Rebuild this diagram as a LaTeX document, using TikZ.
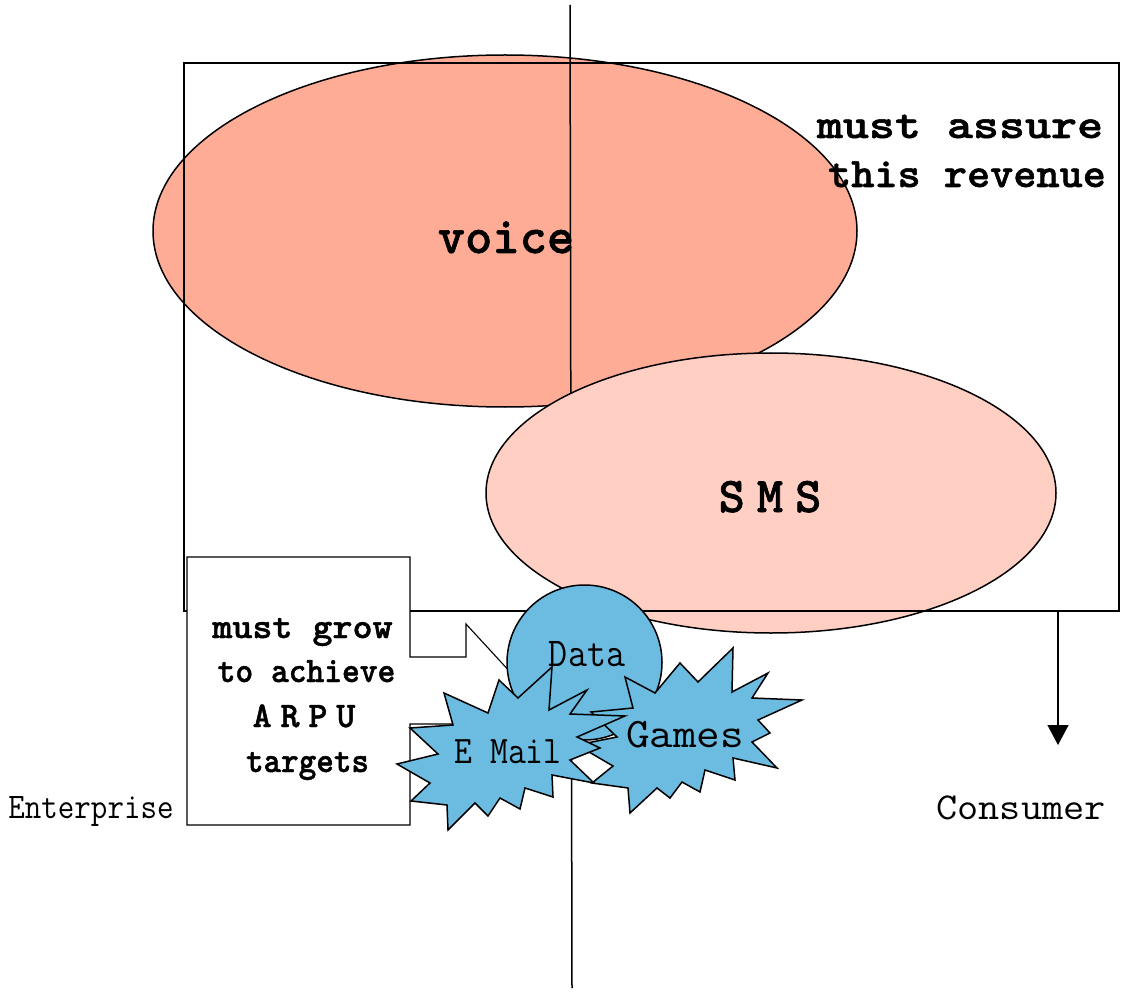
\documentclass[tikz,border=0pt]{standalone}
\usepackage{graphicx}
\usepackage{fontspec}
\usetikzlibrary{arrows.meta}
% heavy slab typewriter for the bold labels
\newfontfamily\monob{lmmonolt10-bold.otf}[FakeBold=1.2]
\definecolor{voicefill}{RGB}{255,172,150}
\definecolor{smsfill}{RGB}{255,207,196}
\definecolor{datafill}{RGB}{108,187,225}
% horizontal stretch of a label, font size helper
\newcommand{\hs}[2]{\scalebox{#1}[1]{#2}}
\newcommand{\fs}[1]{\fontsize{#1}{#1}\selectfont}
\begin{document}
\begin{tikzpicture}[x=1pt,y=-1pt,
  outline/.style={draw=black,line width=1.5pt},
  frameline/.style={draw=black,line width=1.1pt},
  bluefill/.style={outline,fill=datafill,line join=miter},
  lbl/.style={anchor=base,inner sep=0pt,font=\ttfamily},
  blbl/.style={anchor=base,inner sep=0pt,font=\monob}]
\useasboundingbox (0,0) rectangle (1122,992);

% axis end points and arrow ends
\coordinate (axistop) at (570,5);
\coordinate (axisbot) at (572,988);
\coordinate (arrowstart) at (1058,611);
\coordinate (arrowend) at (1058,745);

% voice revenue
\draw[outline,fill=voicefill] (505,231) ellipse [x radius=352pt, y radius=176pt];

% enterprise / consumer divider
\draw[line width=1.5pt] (axistop) -- (axisbot);

% SMS revenue
\draw[outline,fill=smsfill] (771,493) ellipse [x radius=285pt, y radius=140pt];

% assured revenue frame
\draw[frameline] (184,63) rectangle (1119,611);

% drift towards consumer
\draw[line width=1.5pt,-{Triangle[width=21pt,length=20pt]}] (arrowstart) -- (arrowend);

% growth callout with pointer
\draw[frameline,fill=white] (187,557) -- (410,557) -- (410,657) -- (466,657) -- (466,624)
  -- (558,724) -- (410,724) -- (410,825) -- (187,825) -- cycle;

% data services
\draw[bluefill] (584.5,662.5) circle [radius=77.5pt];

\draw[bluefill] (625,677) -- (655,693) -- (680,663) -- (698,682) -- (733,648) -- (732,692)
  -- (768,673) -- (752,698) -- (802,700) -- (758,720) -- (770,733) -- (752,742)
  -- (777,768) -- (733,758) -- (735,780) -- (705,770) -- (700,792) -- (682,782)
  -- (670,798) -- (657,788) -- (630,813) -- (628,788) -- (592,783) -- (613,766)
  -- (577,745) -- (617,737) -- (591,712) -- (633,708) -- cycle;

\draw[bluefill] (397,764) -- (438,754) -- (410,728) -- (453,725) -- (444,693) -- (488,713)
  -- (499,680) -- (518,698) -- (552,667) -- (549,710) -- (587,690) -- (570,714)
  -- (625,716) -- (577,737) -- (600,748) -- (570,760) -- (594,783) -- (552,775)
  -- (553,797) -- (525,788) -- (520,809) -- (500,798) -- (488,816) -- (475,803)
  -- (448,830) -- (447,805) -- (411,801) -- (430,783) -- cycle;

% labels
\node[blbl] (assure1) at (960,138) {\fs{42}\hs{1.18}{must assure}};
\node[blbl] (assure2) at (967,187) {\fs{42}\hs{1.05}{this revenue}};
\node[blbl] (voice) at (506,253) {\fs{52}voice};
\node[blbl] (sms) at (770,512) {\fs{50}S\kern12pt M\kern12pt S};
\node[blbl] (grow1) at (302.5,638) {\fs{36}\hs{1.06}{must grow}};
\node[blbl] (grow2) at (306.5,682) {\fs{36}\hs{0.94}{to achieve}};
\node[blbl] (grow3) at (304,727) {\fs{36}A\kern9pt R\kern9pt P\kern9pt U};
\node[blbl] (grow4) at (307.5,772) {\fs{36}\hs{0.93}{targets}};
\node[lbl] (data) at (587,666) {\fs{41}\hs{0.9}{Data}};
\node[lbl] (email) at (508,763) {\fs{39}\hs{0.89}{E Mail}};
\node[lbl] (games) at (685,747) {\fs{42}\hs{1.09}{Games}};
\node[lbl] (enterprise) at (91,818) {\fs{36}\hs{0.89}{Enterprise}};
\node[lbl] (consumer) at (1021,819) {\fs{38}\hs{1.08}{Consumer}};
\end{tikzpicture}
\end{document}
